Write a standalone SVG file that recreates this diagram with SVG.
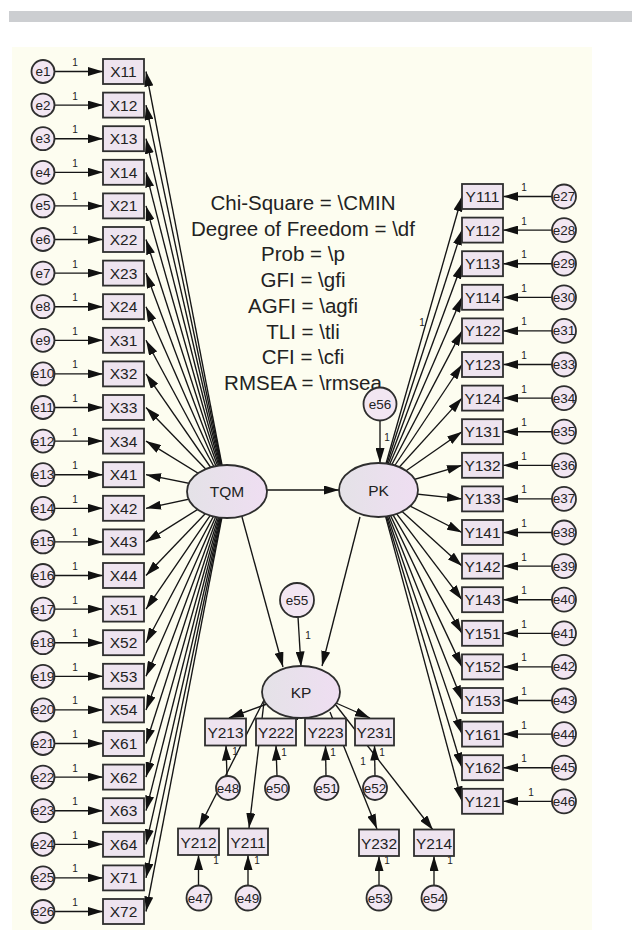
<svg xmlns="http://www.w3.org/2000/svg" width="632" height="930" viewBox="0 0 632 930">
<defs>
<style>
.ln{stroke:#151515;stroke-width:1.35;fill:none}
.box{fill:#eee4ef;stroke:#2e2e2e;stroke-width:1.8}
.err{fill:#f2e6f2;stroke:#2e2e2e;stroke-width:1.8}
.lat{fill:url(#lg);stroke:#2e2e2e;stroke-width:1.8}
.t{font-family:'Liberation Sans',Arial,sans-serif;fill:#222;text-anchor:middle;dominant-baseline:central}
.bl{font-size:15.5px}
.el{font-size:13.5px}
.one{font-size:10px}
.fit{font-family:'Liberation Sans',Arial,sans-serif;fill:#222;text-anchor:middle;font-size:20.5px}
</style>
<linearGradient id="lg" x1="0" y1="0" x2="1" y2="0">
<stop offset="0" stop-color="#e4e2e7"/>
<stop offset="1" stop-color="#efdef2"/>
</linearGradient>
<marker id="a" markerWidth="15" markerHeight="9" refX="15" refY="4.5" orient="auto" markerUnits="userSpaceOnUse">
<path d="M0,0 L15,4.5 L0,9 z" fill="#111"/>
</marker>
</defs>
<rect x="0" y="0" width="632" height="930" fill="#ffffff"/>
<rect x="9" y="11" width="623" height="11" fill="#ccced1"/>
<rect x="12" y="47" width="580" height="883" fill="#fdfdf0"/>

<g id="connectors">
<g marker-end="url(#a)" class="ln">
<line x1="54.5" y1="71.5" x2="103" y2="71.5"/>
<line x1="54.5" y1="105.1" x2="103" y2="105.1"/>
<line x1="54.5" y1="138.7" x2="103" y2="138.7"/>
<line x1="54.5" y1="172.3" x2="103" y2="172.3"/>
<line x1="54.5" y1="205.9" x2="103" y2="205.9"/>
<line x1="54.5" y1="239.5" x2="103" y2="239.5"/>
<line x1="54.5" y1="273.1" x2="103" y2="273.1"/>
<line x1="54.5" y1="306.7" x2="103" y2="306.7"/>
<line x1="54.5" y1="340.3" x2="103" y2="340.3"/>
<line x1="54.5" y1="373.9" x2="103" y2="373.9"/>
<line x1="54.5" y1="407.5" x2="103" y2="407.5"/>
<line x1="54.5" y1="441.1" x2="103" y2="441.1"/>
<line x1="54.5" y1="474.7" x2="103" y2="474.7"/>
<line x1="54.5" y1="508.3" x2="103" y2="508.3"/>
<line x1="54.5" y1="541.9" x2="103" y2="541.9"/>
<line x1="54.5" y1="575.5" x2="103" y2="575.5"/>
<line x1="54.5" y1="609.1" x2="103" y2="609.1"/>
<line x1="54.5" y1="642.7" x2="103" y2="642.7"/>
<line x1="54.5" y1="676.3" x2="103" y2="676.3"/>
<line x1="54.5" y1="709.9" x2="103" y2="709.9"/>
<line x1="54.5" y1="743.5" x2="103" y2="743.5"/>
<line x1="54.5" y1="777.1" x2="103" y2="777.1"/>
<line x1="54.5" y1="810.7" x2="103" y2="810.7"/>
<line x1="54.5" y1="844.3" x2="103" y2="844.3"/>
<line x1="54.5" y1="877.9" x2="103" y2="877.9"/>
<line x1="54.5" y1="911.5" x2="103" y2="911.5"/>
<line x1="227" y1="491" x2="146" y2="71.5"/>
<line x1="227" y1="491" x2="146" y2="105.1"/>
<line x1="227" y1="491" x2="146" y2="138.7"/>
<line x1="227" y1="491" x2="146" y2="172.3"/>
<line x1="227" y1="491" x2="146" y2="205.9"/>
<line x1="227" y1="491" x2="146" y2="239.5"/>
<line x1="227" y1="491" x2="146" y2="273.1"/>
<line x1="227" y1="491" x2="146" y2="306.7"/>
<line x1="227" y1="491" x2="146" y2="340.3"/>
<line x1="227" y1="491" x2="146" y2="373.9"/>
<line x1="227" y1="491" x2="146" y2="407.5"/>
<line x1="227" y1="491" x2="146" y2="441.1"/>
<line x1="227" y1="491" x2="146" y2="474.7"/>
<line x1="227" y1="491" x2="146" y2="508.3"/>
<line x1="227" y1="491" x2="146" y2="541.9"/>
<line x1="227" y1="491" x2="146" y2="575.5"/>
<line x1="227" y1="491" x2="146" y2="609.1"/>
<line x1="227" y1="491" x2="146" y2="642.7"/>
<line x1="227" y1="491" x2="146" y2="676.3"/>
<line x1="227" y1="491" x2="146" y2="709.9"/>
<line x1="227" y1="491" x2="146" y2="743.5"/>
<line x1="227" y1="491" x2="146" y2="777.1"/>
<line x1="227" y1="491" x2="146" y2="810.7"/>
<line x1="227" y1="491" x2="146" y2="844.3"/>
<line x1="227" y1="491" x2="146" y2="877.9"/>
<line x1="227" y1="491" x2="146" y2="911.5"/>
<line x1="378.5" y1="490" x2="462" y2="196.5"/>
<line x1="378.5" y1="490" x2="462" y2="230.1"/>
<line x1="378.5" y1="490" x2="462" y2="263.7"/>
<line x1="378.5" y1="490" x2="462" y2="297.3"/>
<line x1="378.5" y1="490" x2="462" y2="330.9"/>
<line x1="378.5" y1="490" x2="462" y2="364.5"/>
<line x1="378.5" y1="490" x2="462" y2="398.1"/>
<line x1="378.5" y1="490" x2="462" y2="431.7"/>
<line x1="378.5" y1="490" x2="462" y2="465.3"/>
<line x1="378.5" y1="490" x2="462" y2="498.9"/>
<line x1="378.5" y1="490" x2="462" y2="532.5"/>
<line x1="378.5" y1="490" x2="462" y2="566.1"/>
<line x1="378.5" y1="490" x2="462" y2="599.7"/>
<line x1="378.5" y1="490" x2="462" y2="633.3"/>
<line x1="378.5" y1="490" x2="462" y2="666.9"/>
<line x1="378.5" y1="490" x2="462" y2="700.5"/>
<line x1="378.5" y1="490" x2="462" y2="734.1"/>
<line x1="378.5" y1="490" x2="462" y2="767.7"/>
<line x1="378.5" y1="490" x2="462" y2="801.3"/>
<line x1="552" y1="196.5" x2="503" y2="196.5"/>
<line x1="552" y1="230.1" x2="503" y2="230.1"/>
<line x1="552" y1="263.7" x2="503" y2="263.7"/>
<line x1="552" y1="297.3" x2="503" y2="297.3"/>
<line x1="552" y1="330.9" x2="503" y2="330.9"/>
<line x1="552" y1="364.5" x2="503" y2="364.5"/>
<line x1="552" y1="398.1" x2="503" y2="398.1"/>
<line x1="552" y1="431.7" x2="503" y2="431.7"/>
<line x1="552" y1="465.3" x2="503" y2="465.3"/>
<line x1="552" y1="498.9" x2="503" y2="498.9"/>
<line x1="552" y1="532.5" x2="503" y2="532.5"/>
<line x1="552" y1="566.1" x2="503" y2="566.1"/>
<line x1="552" y1="599.7" x2="503" y2="599.7"/>
<line x1="552" y1="633.3" x2="503" y2="633.3"/>
<line x1="552" y1="666.9" x2="503" y2="666.9"/>
<line x1="552" y1="700.5" x2="503" y2="700.5"/>
<line x1="552" y1="734.1" x2="503" y2="734.1"/>
<line x1="552" y1="767.7" x2="503" y2="767.7"/>
<line x1="552" y1="801.3" x2="503" y2="801.3"/>
<line x1="267" y1="490" x2="339" y2="490"/>
<line x1="380" y1="420.5" x2="380" y2="463"/>
<line x1="242" y1="517" x2="283" y2="667"/>
<line x1="360" y1="517" x2="322" y2="666"/>
<line x1="298" y1="617" x2="301" y2="666.5"/>
<line x1="267" y1="704" x2="229" y2="718"/>
<line x1="300" y1="716" x2="284" y2="714"/>
<line x1="323" y1="712" x2="311" y2="702"/>
<line x1="336" y1="703" x2="370" y2="718"/>
<line x1="264" y1="700" x2="199" y2="828"/>
<line x1="264" y1="702" x2="249" y2="828"/>
<line x1="330" y1="712" x2="377" y2="829"/>
<line x1="335" y1="704" x2="433" y2="830"/>
<line x1="227" y1="776" x2="226" y2="745.5"/>
<line x1="277" y1="776" x2="276" y2="745.5"/>
<line x1="326" y1="776" x2="325.5" y2="745.5"/>
<line x1="375" y1="776" x2="374.5" y2="745.5"/>
<line x1="198.5" y1="885.5" x2="198.5" y2="855"/>
<line x1="248" y1="885.5" x2="248" y2="855"/>
<line x1="379" y1="885.5" x2="379" y2="856"/>
<line x1="434" y1="885.5" x2="434" y2="856"/>
</g>
<g class="t one">
<text x="75" y="62.5">1</text><text x="75" y="96.1">1</text><text x="75" y="129.7">1</text><text x="75" y="163.3">1</text>
<text x="75" y="196.9">1</text><text x="75" y="230.5">1</text><text x="75" y="264.1">1</text><text x="75" y="297.7">1</text>
<text x="75" y="331.3">1</text><text x="75" y="364.9">1</text><text x="75" y="398.5">1</text><text x="75" y="432.1">1</text>
<text x="75" y="465.7">1</text><text x="75" y="499.3">1</text><text x="75" y="532.9">1</text><text x="75" y="566.5">1</text>
<text x="75" y="600.1">1</text><text x="75" y="633.7">1</text><text x="75" y="667.3">1</text><text x="75" y="700.9">1</text>
<text x="75" y="734.5">1</text><text x="75" y="768.1">1</text><text x="75" y="801.7">1</text><text x="75" y="835.3">1</text>
<text x="75" y="868.9">1</text><text x="75" y="902.5">1</text>
<text x="524" y="187.5">1</text><text x="524" y="221.1">1</text><text x="524" y="254.7">1</text><text x="524" y="288.3">1</text>
<text x="524" y="321.9">1</text><text x="524" y="355.5">1</text><text x="524" y="389.1">1</text><text x="524" y="422.7">1</text>
<text x="524" y="456.3">1</text><text x="524" y="489.9">1</text><text x="524" y="523.5">1</text><text x="524" y="557.1">1</text>
<text x="524" y="590.7">1</text><text x="524" y="624.3">1</text><text x="524" y="657.9">1</text><text x="524" y="691.5">1</text>
<text x="524" y="725.1">1</text><text x="524" y="758.7">1</text><text x="531" y="792.3">1</text>
<text x="422" y="322">1</text>
<text x="387" y="437">1</text>
<text x="308" y="635">1</text>
<text x="235" y="751">1</text><text x="284" y="752">1</text><text x="333" y="752">1</text><text x="382" y="752">1</text><text x="363" y="761">1</text>
<text x="216" y="860">1</text><text x="257" y="860">1</text><text x="387" y="860">1</text><text x="450" y="860">1</text>
</g>
</g>

<g id="fit-text" class="fit">
<text x="303" y="210">Chi-Square = \CMIN</text>
<text x="303" y="235.7">Degree of Freedom = \df</text>
<text x="303" y="261.4">Prob = \p</text>
<text x="303" y="287.1">GFI = \gfi</text>
<text x="303" y="312.8">AGFI = \agfi</text>
<text x="303" y="338.5">TLI = \tli</text>
<text x="303" y="364.2">CFI = \cfi</text>
<text x="303" y="389.9">RMSEA = \rmsea</text>
</g>

<g id="X11"><rect class="box" x="103" y="59" width="41" height="25"/><text class="t bl" x="123.5" y="71.5">X11</text></g>
<g id="X12"><rect class="box" x="103" y="92.6" width="41" height="25"/><text class="t bl" x="123.5" y="105.1">X12</text></g>
<g id="X13"><rect class="box" x="103" y="126.2" width="41" height="25"/><text class="t bl" x="123.5" y="138.7">X13</text></g>
<g id="X14"><rect class="box" x="103" y="159.8" width="41" height="25"/><text class="t bl" x="123.5" y="172.3">X14</text></g>
<g id="X21"><rect class="box" x="103" y="193.4" width="41" height="25"/><text class="t bl" x="123.5" y="205.9">X21</text></g>
<g id="X22"><rect class="box" x="103" y="227" width="41" height="25"/><text class="t bl" x="123.5" y="239.5">X22</text></g>
<g id="X23"><rect class="box" x="103" y="260.6" width="41" height="25"/><text class="t bl" x="123.5" y="273.1">X23</text></g>
<g id="X24"><rect class="box" x="103" y="294.2" width="41" height="25"/><text class="t bl" x="123.5" y="306.7">X24</text></g>
<g id="X31"><rect class="box" x="103" y="327.8" width="41" height="25"/><text class="t bl" x="123.5" y="340.3">X31</text></g>
<g id="X32"><rect class="box" x="103" y="361.4" width="41" height="25"/><text class="t bl" x="123.5" y="373.9">X32</text></g>
<g id="X33"><rect class="box" x="103" y="395" width="41" height="25"/><text class="t bl" x="123.5" y="407.5">X33</text></g>
<g id="X34"><rect class="box" x="103" y="428.6" width="41" height="25"/><text class="t bl" x="123.5" y="441.1">X34</text></g>
<g id="X41"><rect class="box" x="103" y="462.2" width="41" height="25"/><text class="t bl" x="123.5" y="474.7">X41</text></g>
<g id="X42"><rect class="box" x="103" y="495.8" width="41" height="25"/><text class="t bl" x="123.5" y="508.3">X42</text></g>
<g id="X43"><rect class="box" x="103" y="529.4" width="41" height="25"/><text class="t bl" x="123.5" y="541.9">X43</text></g>
<g id="X44"><rect class="box" x="103" y="563" width="41" height="25"/><text class="t bl" x="123.5" y="575.5">X44</text></g>
<g id="X51"><rect class="box" x="103" y="596.6" width="41" height="25"/><text class="t bl" x="123.5" y="609.1">X51</text></g>
<g id="X52"><rect class="box" x="103" y="630.2" width="41" height="25"/><text class="t bl" x="123.5" y="642.7">X52</text></g>
<g id="X53"><rect class="box" x="103" y="663.8" width="41" height="25"/><text class="t bl" x="123.5" y="676.3">X53</text></g>
<g id="X54"><rect class="box" x="103" y="697.4" width="41" height="25"/><text class="t bl" x="123.5" y="709.9">X54</text></g>
<g id="X61"><rect class="box" x="103" y="731" width="41" height="25"/><text class="t bl" x="123.5" y="743.5">X61</text></g>
<g id="X62"><rect class="box" x="103" y="764.6" width="41" height="25"/><text class="t bl" x="123.5" y="777.1">X62</text></g>
<g id="X63"><rect class="box" x="103" y="798.2" width="41" height="25"/><text class="t bl" x="123.5" y="810.7">X63</text></g>
<g id="X64"><rect class="box" x="103" y="831.8" width="41" height="25"/><text class="t bl" x="123.5" y="844.3">X64</text></g>
<g id="X71"><rect class="box" x="103" y="865.4" width="41" height="25"/><text class="t bl" x="123.5" y="877.9">X71</text></g>
<g id="X72"><rect class="box" x="103" y="899" width="41" height="25"/><text class="t bl" x="123.5" y="911.5">X72</text></g>

<g id="e1"><circle class="err" cx="43" cy="71.5" r="11.5"/><text class="t el" x="43" y="71.5">e1</text></g>
<g id="e2"><circle class="err" cx="43" cy="105.1" r="11.5"/><text class="t el" x="43" y="105.1">e2</text></g>
<g id="e3"><circle class="err" cx="43" cy="138.7" r="11.5"/><text class="t el" x="43" y="138.7">e3</text></g>
<g id="e4"><circle class="err" cx="43" cy="172.3" r="11.5"/><text class="t el" x="43" y="172.3">e4</text></g>
<g id="e5"><circle class="err" cx="43" cy="205.9" r="11.5"/><text class="t el" x="43" y="205.9">e5</text></g>
<g id="e6"><circle class="err" cx="43" cy="239.5" r="11.5"/><text class="t el" x="43" y="239.5">e6</text></g>
<g id="e7"><circle class="err" cx="43" cy="273.1" r="11.5"/><text class="t el" x="43" y="273.1">e7</text></g>
<g id="e8"><circle class="err" cx="43" cy="306.7" r="11.5"/><text class="t el" x="43" y="306.7">e8</text></g>
<g id="e9"><circle class="err" cx="43" cy="340.3" r="11.5"/><text class="t el" x="43" y="340.3">e9</text></g>
<g id="e10"><circle class="err" cx="43" cy="373.9" r="11.5"/><text class="t el" x="43" y="373.9">e10</text></g>
<g id="e11"><circle class="err" cx="43" cy="407.5" r="11.5"/><text class="t el" x="43" y="407.5">e11</text></g>
<g id="e12"><circle class="err" cx="43" cy="441.1" r="11.5"/><text class="t el" x="43" y="441.1">e12</text></g>
<g id="e13"><circle class="err" cx="43" cy="474.7" r="11.5"/><text class="t el" x="43" y="474.7">e13</text></g>
<g id="e14"><circle class="err" cx="43" cy="508.3" r="11.5"/><text class="t el" x="43" y="508.3">e14</text></g>
<g id="e15"><circle class="err" cx="43" cy="541.9" r="11.5"/><text class="t el" x="43" y="541.9">e15</text></g>
<g id="e16"><circle class="err" cx="43" cy="575.5" r="11.5"/><text class="t el" x="43" y="575.5">e16</text></g>
<g id="e17"><circle class="err" cx="43" cy="609.1" r="11.5"/><text class="t el" x="43" y="609.1">e17</text></g>
<g id="e18"><circle class="err" cx="43" cy="642.7" r="11.5"/><text class="t el" x="43" y="642.7">e18</text></g>
<g id="e19"><circle class="err" cx="43" cy="676.3" r="11.5"/><text class="t el" x="43" y="676.3">e19</text></g>
<g id="e20"><circle class="err" cx="43" cy="709.9" r="11.5"/><text class="t el" x="43" y="709.9">e20</text></g>
<g id="e21"><circle class="err" cx="43" cy="743.5" r="11.5"/><text class="t el" x="43" y="743.5">e21</text></g>
<g id="e22"><circle class="err" cx="43" cy="777.1" r="11.5"/><text class="t el" x="43" y="777.1">e22</text></g>
<g id="e23"><circle class="err" cx="43" cy="810.7" r="11.5"/><text class="t el" x="43" y="810.7">e23</text></g>
<g id="e24"><circle class="err" cx="43" cy="844.3" r="11.5"/><text class="t el" x="43" y="844.3">e24</text></g>
<g id="e25"><circle class="err" cx="43" cy="877.9" r="11.5"/><text class="t el" x="43" y="877.9">e25</text></g>
<g id="e26"><circle class="err" cx="43" cy="911.5" r="11.5"/><text class="t el" x="43" y="911.5">e26</text></g>

<g id="Y111"><rect class="box" x="462" y="184" width="41" height="25"/><text class="t bl" x="482.5" y="196.5">Y111</text></g>
<g id="Y112"><rect class="box" x="462" y="217.6" width="41" height="25"/><text class="t bl" x="482.5" y="230.1">Y112</text></g>
<g id="Y113"><rect class="box" x="462" y="251.2" width="41" height="25"/><text class="t bl" x="482.5" y="263.7">Y113</text></g>
<g id="Y114"><rect class="box" x="462" y="284.8" width="41" height="25"/><text class="t bl" x="482.5" y="297.3">Y114</text></g>
<g id="Y122"><rect class="box" x="462" y="318.4" width="41" height="25"/><text class="t bl" x="482.5" y="330.9">Y122</text></g>
<g id="Y123"><rect class="box" x="462" y="352" width="41" height="25"/><text class="t bl" x="482.5" y="364.5">Y123</text></g>
<g id="Y124"><rect class="box" x="462" y="385.6" width="41" height="25"/><text class="t bl" x="482.5" y="398.1">Y124</text></g>
<g id="Y131"><rect class="box" x="462" y="419.2" width="41" height="25"/><text class="t bl" x="482.5" y="431.7">Y131</text></g>
<g id="Y132"><rect class="box" x="462" y="452.8" width="41" height="25"/><text class="t bl" x="482.5" y="465.3">Y132</text></g>
<g id="Y133"><rect class="box" x="462" y="486.4" width="41" height="25"/><text class="t bl" x="482.5" y="498.9">Y133</text></g>
<g id="Y141"><rect class="box" x="462" y="520" width="41" height="25"/><text class="t bl" x="482.5" y="532.5">Y141</text></g>
<g id="Y142"><rect class="box" x="462" y="553.6" width="41" height="25"/><text class="t bl" x="482.5" y="566.1">Y142</text></g>
<g id="Y143"><rect class="box" x="462" y="587.2" width="41" height="25"/><text class="t bl" x="482.5" y="599.7">Y143</text></g>
<g id="Y151"><rect class="box" x="462" y="620.8" width="41" height="25"/><text class="t bl" x="482.5" y="633.3">Y151</text></g>
<g id="Y152"><rect class="box" x="462" y="654.4" width="41" height="25"/><text class="t bl" x="482.5" y="666.9">Y152</text></g>
<g id="Y153"><rect class="box" x="462" y="688" width="41" height="25"/><text class="t bl" x="482.5" y="700.5">Y153</text></g>
<g id="Y161"><rect class="box" x="462" y="721.6" width="41" height="25"/><text class="t bl" x="482.5" y="734.1">Y161</text></g>
<g id="Y162"><rect class="box" x="462" y="755.2" width="41" height="25"/><text class="t bl" x="482.5" y="767.7">Y162</text></g>
<g id="Y121"><rect class="box" x="462" y="788.8" width="41" height="25"/><text class="t bl" x="482.5" y="801.3">Y121</text></g>

<g id="e27"><circle class="err" cx="564" cy="196.5" r="12"/><text class="t el" x="564" y="196.5">e27</text></g>
<g id="e28"><circle class="err" cx="564" cy="230.1" r="12"/><text class="t el" x="564" y="230.1">e28</text></g>
<g id="e29"><circle class="err" cx="564" cy="263.7" r="12"/><text class="t el" x="564" y="263.7">e29</text></g>
<g id="e30"><circle class="err" cx="564" cy="297.3" r="12"/><text class="t el" x="564" y="297.3">e30</text></g>
<g id="e31"><circle class="err" cx="564" cy="330.9" r="12"/><text class="t el" x="564" y="330.9">e31</text></g>
<g id="e33"><circle class="err" cx="564" cy="364.5" r="12"/><text class="t el" x="564" y="364.5">e33</text></g>
<g id="e34"><circle class="err" cx="564" cy="398.1" r="12"/><text class="t el" x="564" y="398.1">e34</text></g>
<g id="e35"><circle class="err" cx="564" cy="431.7" r="12"/><text class="t el" x="564" y="431.7">e35</text></g>
<g id="e36"><circle class="err" cx="564" cy="465.3" r="12"/><text class="t el" x="564" y="465.3">e36</text></g>
<g id="e37"><circle class="err" cx="564" cy="498.9" r="12"/><text class="t el" x="564" y="498.9">e37</text></g>
<g id="e38"><circle class="err" cx="564" cy="532.5" r="12"/><text class="t el" x="564" y="532.5">e38</text></g>
<g id="e39"><circle class="err" cx="564" cy="566.1" r="12"/><text class="t el" x="564" y="566.1">e39</text></g>
<g id="e40"><circle class="err" cx="564" cy="599.7" r="12"/><text class="t el" x="564" y="599.7">e40</text></g>
<g id="e41"><circle class="err" cx="564" cy="633.3" r="12"/><text class="t el" x="564" y="633.3">e41</text></g>
<g id="e42"><circle class="err" cx="564" cy="666.9" r="12"/><text class="t el" x="564" y="666.9">e42</text></g>
<g id="e43"><circle class="err" cx="564" cy="700.5" r="12"/><text class="t el" x="564" y="700.5">e43</text></g>
<g id="e44"><circle class="err" cx="564" cy="734.1" r="12"/><text class="t el" x="564" y="734.1">e44</text></g>
<g id="e45"><circle class="err" cx="564" cy="767.7" r="12"/><text class="t el" x="564" y="767.7">e45</text></g>
<g id="e46"><circle class="err" cx="564" cy="801.3" r="12"/><text class="t el" x="564" y="801.3">e46</text></g>

<g id="TQM"><ellipse class="lat" cx="227" cy="491.5" rx="40" ry="26.5"/><text class="t bl" x="227" y="491.5">TQM</text></g>
<g id="PK"><ellipse class="lat" cx="378.5" cy="490" rx="39.5" ry="27"/><text class="t bl" x="378.5" y="490">PK</text></g>
<g id="KP"><ellipse class="lat" cx="301" cy="692" rx="39" ry="26"/><text class="t bl" x="301" y="692">KP</text></g>
<g id="e56"><circle class="err" cx="380" cy="404" r="16.5"/><text class="t el" x="380" y="404">e56</text></g>
<g id="e55"><circle class="err" cx="297" cy="600" r="17"/><text class="t el" x="297" y="600">e55</text></g>

<g id="Y213"><rect class="box" x="205" y="718.5" width="41" height="27"/><text class="t bl" x="225.5" y="732">Y213</text></g>
<g id="Y222"><rect class="box" x="256" y="718.5" width="40" height="27"/><text class="t bl" x="276" y="732">Y222</text></g>
<g id="Y223"><rect class="box" x="305" y="718.5" width="41" height="27"/><text class="t bl" x="325.5" y="732">Y223</text></g>
<g id="Y231"><rect class="box" x="355" y="718.5" width="39" height="27"/><text class="t bl" x="374.5" y="732">Y231</text></g>
<g id="Y212"><rect class="box" x="178" y="828.5" width="41" height="26.5"/><text class="t bl" x="198.5" y="842">Y212</text></g>
<g id="Y211"><rect class="box" x="228" y="828.5" width="40" height="26.5"/><text class="t bl" x="248" y="842">Y211</text></g>
<g id="Y232"><rect class="box" x="359" y="829.5" width="40" height="26.5"/><text class="t bl" x="379" y="843">Y232</text></g>
<g id="Y214"><rect class="box" x="414" y="829.5" width="40" height="26.5"/><text class="t bl" x="434" y="843">Y214</text></g>
<g id="e48"><circle class="err" cx="228" cy="788" r="12"/><text class="t el" x="228" y="788">e48</text></g>
<g id="e50"><circle class="err" cx="277" cy="788" r="12"/><text class="t el" x="277" y="788">e50</text></g>
<g id="e51"><circle class="err" cx="326.5" cy="788" r="12"/><text class="t el" x="326.5" y="788">e51</text></g>
<g id="e52"><circle class="err" cx="375" cy="788" r="12"/><text class="t el" x="375" y="788">e52</text></g>
<g id="e47"><circle class="err" cx="199" cy="898" r="12.5"/><text class="t el" x="199" y="898">e47</text></g>
<g id="e49"><circle class="err" cx="248" cy="898" r="12.5"/><text class="t el" x="248" y="898">e49</text></g>
<g id="e53"><circle class="err" cx="379" cy="898" r="12.5"/><text class="t el" x="379" y="898">e53</text></g>
<g id="e54"><circle class="err" cx="434" cy="898" r="12.5"/><text class="t el" x="434" y="898">e54</text></g>
</svg>
